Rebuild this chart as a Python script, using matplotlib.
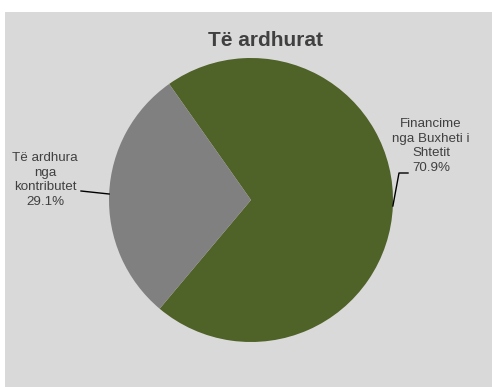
import numpy as np
import matplotlib.pyplot as plt
from matplotlib.patches import Rectangle

plt.rcParams["font.family"] = ["Liberation Sans", "DejaVu Sans"]

# --- data ---
labels = ["Financime\nnga Buxheti i\nShtetit", "Të ardhura\nnga\nkontributet"]
shares = [70.9, 29.1]
colors = ["#4f6228", "#808080"]
title = "Të ardhurat"

W, H = 492, 387
fig = plt.figure(figsize=(W / 100, H / 100), dpi=100, facecolor="white")
ax = fig.add_axes([0, 0, 1, 1])

# chart area background
ax.add_patch(Rectangle((5, 0), W - 5, H - 12, facecolor="#d9d9d9", edgecolor="none", zorder=0))

cx, cy, r = 251, 187, 142
start = 125.2
wedges, _ = ax.pie(shares, colors=colors, startangle=start, counterclock=False,
                   center=(cx, cy), radius=r, frame=True,
                   wedgeprops=dict(linewidth=0))
ax.set_xlim(0, W)
ax.set_ylim(0, H)
ax.set_aspect("equal")
ax.axis("off")

text_kw = dict(fontsize=9.6, color="#404040", ha="center", va="center", linespacing=1.28)

# leader line anchor points on the pie edge at each wedge's middle angle
mids = [np.deg2rad((w.theta1 + w.theta2) / 2) for w in wedges]
edge = [(cx + r * np.cos(a), cy + r * np.sin(a)) for a in mids]

# right label (green slice)
ax.text(431, H - 146, f"{labels[0]}\n{shares[0]:.1f}%", **text_kw)
ax.plot([edge[0][0], 399, 408], [edge[0][1], H - 173, H - 173], color="black", lw=1)

# left label (gray slice)
ax.text(45, H - 180, f"{labels[1]}\n{shares[1]:.1f}%", **text_kw)
ax.plot([edge[1][0], 81], [edge[1][1], H - 191], color="black", lw=1)

ax.text(265, H - 40, title, fontsize=15, fontweight="bold", color="#404040",
        ha="center", va="center")

fig.savefig("out.png", dpi=100, facecolor="white")
